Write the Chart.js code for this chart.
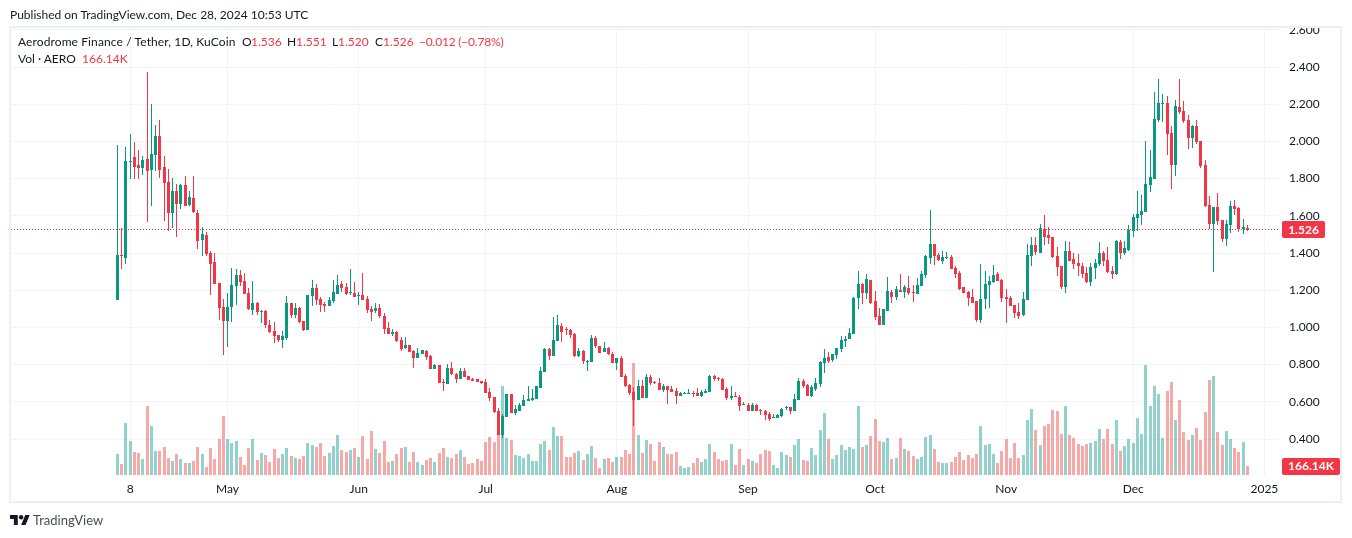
<!DOCTYPE html>
<html>
<head>
<meta charset="utf-8">
<script src="https://cdn.jsdelivr.net/npm/chart.js@4"></script>
<style>
    html, body { margin: 0; padding: 0; background: #fff; }
    body { width: 1352px; height: 538px; overflow: hidden; position: relative; font-family: Lato, sans-serif; color: #131722; }
    canvas { position: absolute; left: 0; top: 0; }
    .txt { position: absolute; white-space: nowrap; font-size: 12px; line-height: 16px; }
    .red { color: #F23645; }
</style>
</head>
<body>
<canvas id="chart" width="1352" height="538"></canvas>

<div class="txt" style="left:10px;top:7px">Published on TradingView.com, Dec 28, 2024 10:53 UTC</div>
<div class="txt" style="left:18px;top:34px;letter-spacing:0.11px">Aerodrome Finance / Tether, 1D, KuCoin</div>
<div class="txt" style="left:242px;top:34px">O</div>
<div class="txt red" style="left:251px;top:34px">1.536</div>
<div class="txt" style="left:287px;top:34px">H</div>
<div class="txt red" style="left:296px;top:34px">1.551</div>
<div class="txt" style="left:332px;top:34px">L</div>
<div class="txt red" style="left:338px;top:34px">1.520</div>
<div class="txt" style="left:375px;top:34px">C</div>
<div class="txt red" style="left:383px;top:34px">1.526</div>
<div class="txt red" style="left:419px;top:34px;letter-spacing:-0.2px">−0.012 (−0.78%)</div>
<div class="txt" style="left:18px;top:51px">Vol · AERO</div>
<div class="txt red" style="left:82px;top:51px">166.14K</div>

<svg style="position:absolute;left:10px;top:515px" width="20" height="10" viewBox="0 7 36 18">
    <path fill="#131722" d="M14 25H7V14H0V7h14v18zM28 25h-8l7.5-18h8L28 25z"/><circle fill="#131722" cx="20" cy="11" r="4"/>
</svg>
<div class="txt" style="left:33px;top:512px;font-size:13px;color:#4a4d57">TradingView</div>

<script>
// daily candles, 5 Apr to 28 Dec 2024
const opens = [
    1.147, 1.389, 1.373, 1.89, 1.916, 1.873, 1.857, 1.905, 1.846, 1.927,
    2.029, 1.862, 1.782, 1.615, 1.733, 1.663, 1.766, 1.658, 1.696, 1.615,
    1.47, 1.497, 1.40, 1.352, 1.239, 1.11, 1.034, 1.11, 1.223, 1.282,
    1.249, 1.185, 1.094, 1.131, 1.083, 1.088, 1.013, .981, .959, .932,
    .943, 1.131, 1.067, 1.104, 1.034, .986, 1.169, 1.212, 1.153, 1.126,
    1.115, 1.142, 1.18, 1.233, 1.217, 1.185, 1.185, 1.17, 1.174, 1.153,
    1.099, 1.088, 1.104, 1.061, .997, .965, .975, .932, .889, .905,
    .873, .835, .857, .873, .846, .776, .798, .706, .696, .782,
    .749, .723, .766, .739, .723, .723, .712, .706, .653, .626,
    .551, .422, .518, .642, .54, .551, .577, .604, .61, .615,
    .674, .76, .884, .846, .927, 1.008, .991, .986, .965, .846,
    .873, .814, .814, .943, .90, .868, .889, .857, .809, .835,
    .739, .69, .653, .61, .685, .62, .733, .706, .701, .663,
    .685, .669, .658, .631, .642, .642, .647, .647, .631, .647,
    .653, .739, .728, .723, .669, .62, .631, .626, .583, .583,
    .551, .583, .556, .551, .534, .513, .513, .524, .567, .572,
    .551, .61, .712, .69, .631, .669, .696, .809, .841, .825,
    .852, .884, .927, .938, .965, 1.158, 1.233, 1.185, 1.255, 1.142,
    1.061, 1.013, 1.088, 1.19, 1.163, 1.201, 1.19, 1.212, 1.19, 1.18,
    1.223, 1.282, 1.373, 1.448, 1.389, 1.357, 1.373, 1.379, 1.319, 1.292,
    1.217, 1.19, 1.163, 1.142, 1.04, 1.153, 1.228, 1.244, 1.287, 1.255,
    1.163, 1.158, 1.12, 1.083, 1.067, 1.147, 1.384, 1.443, 1.40, 1.529,
    1.497, 1.486, 1.384, 1.33, 1.217, 1.411, 1.368, 1.346, 1.33, 1.292,
    1.244, 1.319, 1.341, 1.40, 1.362, 1.303, 1.287, 1.459, 1.40, 1.416,
    1.518, 1.588, 1.604, 1.62, 1.766, 1.798, 2.115, 2.2, 2.206, 2.045,
    1.873, 2.185, 2.163, 2.115, 2.018, 2.083, 2.002, 1.873, 1.658, 1.556,
    1.647, 1.577, 1.475, 1.551, 1.653, 1.642, 1.529, 1.536
];
const highs = [
    1.981, 1.534, 1.97, 2.04, 1.997, 1.954, 1.92, 2.373, 2.20, 2.088,
    2.115, 1.92, 1.852, 1.803, 1.771, 1.771, 1.814, 1.733, 1.814, 1.631,
    1.54, 1.513, 1.411, 1.40, 1.239, 1.153, 1.185, 1.319, 1.314, 1.309,
    1.292, 1.212, 1.249, 1.137, 1.094, 1.094, 1.04, 1.029, .959, .981,
    1.169, 1.131, 1.131, 1.11, 1.034, 1.174, 1.255, 1.233, 1.163, 1.137,
    1.163, 1.255, 1.282, 1.249, 1.239, 1.314, 1.244, 1.19, 1.292, 1.169,
    1.115, 1.131, 1.126, 1.077, 1.029, .991, .981, .948, .948, .905,
    .878, .889, .878, .878, .852, .803, .798, .723, .803, .814,
    .755, .782, .782, .739, .728, .723, .712, .723, .674, .626,
    .567, .534, .642, .642, .583, .594, .637, .685, .669, .685,
    .787, .889, .889, 1.056, 1.067, 1.024, 1.002, .991, .97, .889,
    .878, .825, .959, .954, .90, .921, .895, .868, .835, .846,
    .749, .696, .68, .717, .717, .749, .744, .712, .728, .696,
    .685, .685, .674, .653, .653, .669, .658, .674, .663, .669,
    .744, .744, .733, .728, .68, .685, .653, .637, .599, .594,
    .594, .588, .561, .556, .545, .534, .534, .567, .577, .572,
    .642, .728, .723, .696, .69, .728, .819, .884, .868, .857,
    .889, .954, .954, .997, 1.163, 1.303, 1.239, 1.287, 1.255, 1.196,
    1.104, 1.099, 1.271, 1.201, 1.223, 1.287, 1.228, 1.276, 1.228, 1.266,
    1.303, 1.389, 1.631, 1.448, 1.40, 1.411, 1.405, 1.389, 1.33, 1.303,
    1.217, 1.196, 1.206, 1.142, 1.341, 1.303, 1.276, 1.335, 1.298, 1.26,
    1.206, 1.169, 1.12, 1.131, 1.19, 1.448, 1.486, 1.486, 1.556, 1.604,
    1.54, 1.486, 1.432, 1.33, 1.465, 1.459, 1.40, 1.395, 1.346, 1.325,
    1.346, 1.368, 1.459, 1.411, 1.432, 1.33, 1.47, 1.47, 1.465, 1.551,
    1.61, 1.733, 1.712, 2.002, 1.954, 2.266, 2.335, 2.255, 2.244, 2.083,
    2.223, 2.335, 2.217, 2.142, 2.088, 2.115, 2.002, 1.90, 1.706, 1.647,
    1.722, 1.577, 1.577, 1.68, 1.685, 1.647, 1.583, 1.551
];
const lows = [
    1.147, 1.314, 1.34, 1.80, 1.80, 1.80, 1.82, 1.567, 1.653, 1.84,
    1.803, 1.572, 1.518, 1.534, 1.486, 1.637, 1.653, 1.653, 1.615, 1.422,
    1.384, 1.384, 1.174, 1.233, 1.04, .852, .895, 1.029, 1.12, 1.223,
    1.18, 1.094, 1.067, 1.067, 1.024, .997, .97, .916, .921, .889,
    .932, 1.05, 1.05, 1.024, .981, .986, 1.115, 1.12, 1.083, 1.083,
    1.115, 1.131, 1.18, 1.19, 1.174, 1.174, 1.163, 1.12, 1.147, 1.077,
    1.034, 1.077, 1.05, .965, .965, .954, .921, .873, .884, .868,
    .782, .835, .857, .825, .776, .776, .701, .658, .696, .744,
    .701, .723, .733, .717, .712, .706, .696, .647, .604, .54,
    .422, .405, .518, .54, .529, .551, .577, .604, .604, .615,
    .674, .76, .825, .846, .927, .921, .959, .943, .841, .841,
    .803, .766, .814, .889, .862, .868, .852, .809, .771, .733,
    .68, .637, .47, .61, .62, .62, .69, .696, .663, .653,
    .588, .653, .588, .631, .642, .642, .626, .631, .626, .647,
    .653, .712, .712, .663, .61, .61, .626, .551, .583, .551,
    .551, .551, .529, .502, .497, .513, .513, .518, .556, .534,
    .551, .61, .674, .631, .626, .658, .68, .755, .809, .814,
    .83, .868, .895, .938, .965, 1.099, 1.126, 1.153, 1.126, 1.04,
    1.013, 1.013, 1.088, 1.131, 1.147, 1.19, 1.158, 1.174, 1.137, 1.18,
    1.223, 1.266, 1.341, 1.335, 1.357, 1.341, 1.368, 1.314, 1.266, 1.201,
    1.185, 1.115, 1.131, 1.029, 1.024, 1.099, 1.104, 1.239, 1.249, 1.137,
    1.024, 1.115, 1.05, 1.045, 1.061, 1.147, 1.33, 1.389, 1.40, 1.443,
    1.448, 1.373, 1.276, 1.206, 1.185, 1.357, 1.314, 1.276, 1.266, 1.239,
    1.223, 1.26, 1.33, 1.33, 1.292, 1.26, 1.282, 1.368, 1.389, 1.411,
    1.486, 1.518, 1.551, 1.62, 1.728, 1.798, 2.104, 2.104, 1.927, 1.744,
    1.814, 2.147, 2.099, 1.959, 1.965, 1.986, 1.857, 1.647, 1.529, 1.298,
    1.551, 1.459, 1.438, 1.508, 1.604, 1.513, 1.502, 1.52
];
const closes = [
    1.389, 1.384, 1.895, 1.895, 1.862, 1.857, 1.90, 1.84, 1.932, 2.029,
    1.846, 1.776, 1.615, 1.733, 1.663, 1.766, 1.653, 1.70, 1.62, 1.465,
    1.502, 1.395, 1.341, 1.233, 1.104, 1.034, 1.11, 1.228, 1.282, 1.244,
    1.18, 1.099, 1.131, 1.083, 1.088, 1.013, .975, .954, .932, .954,
    1.131, 1.067, 1.104, 1.029, .986, 1.174, 1.212, 1.147, 1.12, 1.115,
    1.147, 1.19, 1.228, 1.212, 1.18, 1.19, 1.163, 1.174, 1.147, 1.094,
    1.083, 1.104, 1.061, .991, .965, .975, .927, .884, .905, .868,
    .835, .862, .878, .841, .776, .798, .701, .701, .782, .749,
    .723, .766, .733, .717, .712, .706, .701, .647, .62, .545,
    .422, .524, .642, .54, .561, .583, .61, .615, .62, .685,
    .766, .884, .846, .932, 1.013, .975, .986, .959, .846, .873,
    .819, .819, .943, .90, .862, .889, .857, .809, .835, .733,
    .685, .647, .61, .685, .62, .733, .701, .701, .663, .685,
    .663, .653, .631, .647, .647, .647, .642, .631, .653, .658,
    .739, .723, .723, .663, .62, .631, .626, .577, .588, .551,
    .583, .551, .551, .529, .508, .518, .529, .561, .572, .551,
    .615, .712, .685, .631, .68, .701, .814, .835, .819, .857,
    .889, .932, .938, .97, 1.158, 1.233, 1.185, 1.26, 1.131, 1.056,
    1.013, 1.099, 1.196, 1.163, 1.206, 1.19, 1.217, 1.185, 1.185, 1.228,
    1.287, 1.384, 1.448, 1.384, 1.362, 1.379, 1.379, 1.314, 1.287, 1.206,
    1.185, 1.158, 1.131, 1.04, 1.153, 1.233, 1.249, 1.282, 1.249, 1.158,
    1.153, 1.115, 1.077, 1.061, 1.153, 1.389, 1.443, 1.405, 1.534, 1.486,
    1.481, 1.379, 1.325, 1.217, 1.411, 1.357, 1.341, 1.33, 1.287, 1.244,
    1.325, 1.346, 1.40, 1.357, 1.298, 1.287, 1.465, 1.40, 1.427, 1.524,
    1.594, 1.61, 1.626, 1.771, 1.809, 2.12, 2.206, 2.206, 2.04, 1.873,
    2.19, 2.158, 2.11, 2.018, 2.083, 1.997, 1.868, 1.653, 1.556, 1.647,
    1.572, 1.475, 1.556, 1.653, 1.637, 1.529, 1.54, 1.526
];
// volume in thousands of AERO
const volumes = [
    389, 204, 962, 629, 426, 407, 296, 1277, 907, 444,
    444, 518, 315, 259, 389, 296, 222, 222, 259, 518,
    389, 148, 500, 296, 666, 1092, 666, 592, 629, 333,
    185, 500, 666, 278, 407, 370, 241, 481, 315, 389,
    500, 352, 315, 296, 352, 592, 555, 518, 592, 352,
    407, 537, 740, 463, 426, 463, 500, 333, 722, 296,
    814, 481, 407, 629, 241, 259, 389, 500, 518, 241,
    426, 241, 185, 278, 315, 241, 407, 500, 333, 315,
    389, 463, 333, 204, 222, 296, 259, 611, 703, 611,
    740, 1647, 685, 648, 370, 352, 315, 389, 259, 259,
    574, 629, 463, 888, 722, 722, 333, 333, 407, 444,
    278, 389, 537, 315, 130, 296, 315, 241, 333, 333,
    463, 389, 2072, 740, 407, 648, 574, 259, 611, 518,
    389, 389, 426, 166, 130, 148, 222, 315, 241, 296,
    574, 426, 296, 259, 278, 574, 185, 481, 185, 296,
    259, 222, 389, 463, 444, 185, 130, 426, 370, 333,
    555, 666, 278, 259, 500, 370, 833, 1147, 666, 296,
    370, 555, 463, 518, 481, 1277, 518, 555, 722, 1036,
    629, 611, 685, 296, 315, 685, 481, 444, 352, 296,
    333, 703, 740, 481, 241, 222, 222, 241, 333, 426,
    278, 370, 315, 389, 907, 555, 574, 389, 222, 444,
    666, 315, 592, 315, 370, 1018, 1221, 833, 555, 907,
    944, 1203, 1184, 759, 1277, 740, 685, 574, 537, 574,
    592, 629, 851, 666, 851, 574, 1018, 444, 537, 666,
    592, 1055, 759, 2035, 1277, 1647, 1499, 685, 1554, 1721,
    1018, 1388, 796, 648, 740, 870, 648, 1166, 1758, 1832,
    796, 555, 814, 666, 500, 426, 611, 166.14
];

// tick labels and where they sit, in days since the first candle
const dayTicks = [3, 26, 57, 87, 118, 149, 179, 210, 240, 271];
const dayLabels = ['8', 'May', 'Jun', 'Jul', 'Aug', 'Sep', 'Oct', 'Nov', 'Dec', '2025'];
const priceTicks = [0.4, 0.6, 0.8, 1.0, 1.2, 1.4, 1.6, 1.8, 2.0, 2.2, 2.4, 2.6];

const UP = '#089981', DOWN = '#F23645';
const UP_VOL = 'rgba(38,166,154,0.5)', DOWN_VOL = 'rgba(239,83,80,0.5)';
const GRID = '#f3f4f7', FRAME = '#eeeff4';
const FONT = 'Lato, sans-serif';

const isUp = closes.map((c, i) => c >= opens[i]);
const candleColors = isUp.map(u => u ? UP : DOWN);
const volumeColors = isUp.map(u => u ? UP_VOL : DOWN_VOL);

// nudge bars onto whole pixels so they stay crisp like the original
const snapBars = {
    id: 'snapBars',
    beforeDatasetsDraw(chart) {
        chart.getSortedVisibleDatasetMetas().forEach(meta => {
            meta.data.forEach(bar => {
                bar.x = Math.floor(bar.x) + 0.5;
                bar.y = Math.round(bar.y);
                bar.base = Math.round(bar.base);
                if (bar.y === bar.base) bar.base = bar.y + 1;
            });
        });
    }
};

function drawTag(ctx, x, w, yc, text, color) {
    ctx.fillStyle = color;
    ctx.beginPath();
    ctx.roundRect(x, Math.round(yc - 8.5), w, 17, 2);
    ctx.fill();
    ctx.fillStyle = '#fff';
    ctx.font = 'bold 12px ' + FONT;
    ctx.textAlign = 'center';
    ctx.textBaseline = 'middle';
    ctx.fillText(text, x + w / 2, yc + 0.5);
}

const overlay = {
    id: 'overlay',
    afterDraw(chart) {
        const ctx = chart.ctx, area = chart.chartArea;
        const last = closes[closes.length - 1];
        const y = Math.floor(chart.scales.y.getPixelForValue(last)) + 0.5;
        ctx.save();
        // last price line
        ctx.strokeStyle = DOWN;
        ctx.lineWidth = 1;
        ctx.setLineDash([1, 2]);
        ctx.beginPath();
        ctx.moveTo(area.left, y);
        ctx.lineTo(area.right, y);
        ctx.stroke();
        ctx.setLineDash([]);
        // everything above the frame is cut off, the top price label too
        ctx.fillStyle = '#fff';
        ctx.fillRect(0, 0, 1352, 27);
        ctx.strokeStyle = FRAME;
        ctx.lineWidth = 2;
        ctx.strokeRect(10, 27, 1331, 475);
        drawTag(ctx, 1282, 43, y, last.toFixed(3), DOWN);
        drawTag(ctx, 1282, 58, chart.scales.y2.getPixelForValue(volumes[volumes.length - 1]), '166.14K', DOWN);
        ctx.restore();
    }
};

new Chart(document.getElementById('chart'), {
    type: 'bar',
    data: {
        datasets: [
            {
                label: 'Body',
                data: opens.map((o, i) => ({ x: i, y: [o, closes[i]] })),
                backgroundColor: candleColors,
                barThickness: 3,
                order: 1
            },
            {
                label: 'Wick',
                data: lows.map((l, i) => ({ x: i, y: [l, highs[i]] })),
                backgroundColor: candleColors,
                barThickness: 1,
                order: 2
            },
            {
                label: 'Vol',
                data: volumes.map((v, i) => ({ x: i, y: v })),
                backgroundColor: volumeColors,
                barThickness: 3,
                yAxisID: 'y2',
                order: 3
            }
        ]
    },
    plugins: [snapBars, overlay],
    options: {
        responsive: false,
        animation: false,
        devicePixelRatio: 1,
        grouped: false,
        inflateAmount: 0,
        layout: { autoPadding: false, padding: { left: 11, top: 28 } },
        plugins: { legend: { display: false }, tooltip: { enabled: false } },
        scales: {
            x: {
                type: 'linear',
                offset: false,
                min: -25.166,
                max: 274.69,
                grid: { color: GRID, offset: false, drawTicks: false },
                border: { display: false },
                afterBuildTicks: scale => { scale.ticks = dayTicks.map(d => ({ value: d })); },
                afterFit: scale => { scale.height = 63; },
                ticks: {
                    autoSkip: false,
                    maxRotation: 0,
                    padding: 7,
                    color: '#131722',
                    font: { family: FONT, size: 12 },
                    callback: (v, i) => dayLabels[i]
                }
            },
            y: {
                position: 'right',
                min: 0.2065,
                max: 2.6097,
                grid: { color: GRID, drawTicks: false },
                border: { display: false },
                afterBuildTicks: scale => { scale.ticks = priceTicks.map(v => ({ value: v })); },
                afterFit: scale => { scale.width = 72; },
                ticks: {
                    padding: 9,
                    color: '#131722',
                    font: { family: FONT, size: 12 },
                    callback: v => v.toFixed(3)
                }
            },
            y2: {
                display: false,
                min: 0,
                max: 8270
            }
        }
    }
});
</script>
</body>
</html>
